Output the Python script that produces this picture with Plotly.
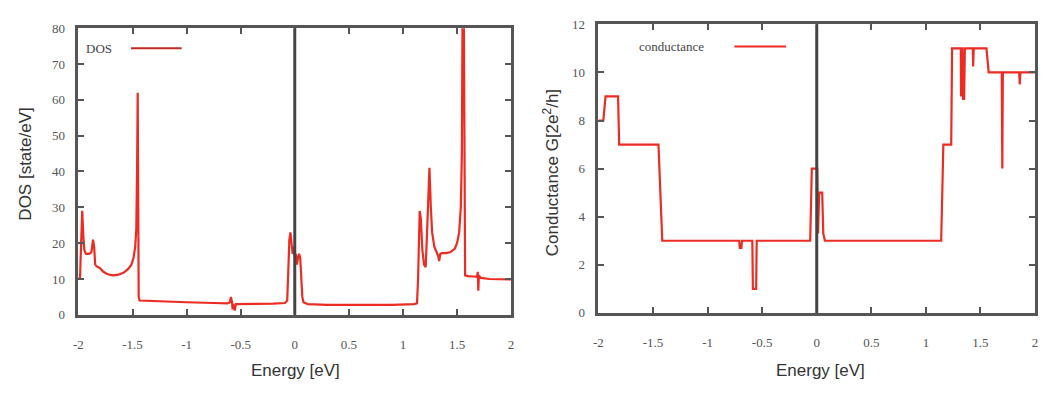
import plotly.graph_objects as go

dos_energy = [-2.00, -1.985, -1.975, -1.965, -1.955, -1.945, -1.93, -1.90, -1.88, -1.865, -1.855, -1.845,
              -1.83, -1.80, -1.77, -1.73, -1.68, -1.63, -1.58, -1.54, -1.51, -1.49, -1.475, -1.465,
              -1.458, -1.452, -1.447, -1.443, -1.435, -1.30, -1.0, -0.75, -0.62, -0.60, -0.59, -0.58,
              -0.575, -0.57, -0.555, -0.545, -0.40, -0.20, -0.09, -0.07, -0.06, -0.05, -0.04, -0.03,
              -0.02, -0.01, 0.0, 0.01, 0.02, 0.03, 0.04, 0.05, 0.055, 0.06, 0.07, 0.08, 0.12, 0.30,
              0.60, 0.90, 1.10, 1.13, 1.14, 1.155, 1.165, 1.18, 1.195, 1.21, 1.222, 1.235, 1.245,
              1.258, 1.27, 1.29, 1.31, 1.325, 1.335, 1.345, 1.36, 1.40, 1.44, 1.48, 1.50, 1.52, 1.535,
              1.545, 1.552, 1.562, 1.575, 1.60, 1.65, 1.685, 1.692, 1.697, 1.702, 1.72, 1.80, 1.90, 2.00]
dos_values = [10, 10.5, 20, 29, 22, 18, 17, 17, 17.5, 21, 19, 14,
              13.5, 13, 12, 11.3, 11, 11.2, 11.8, 12.8, 14, 16, 19, 24,
              40, 62, 30, 5, 4, 3.8, 3.5, 3.3, 3.2, 3.5, 5, 3.5,
              1.5, 3, 1.2, 3, 3, 3.1, 3.3, 4, 12, 21, 23, 20,
              17, 19, 16, 17, 14, 16, 17, 16, 12, 9, 5, 3.5, 3, 2.8,
              2.7, 2.8, 3, 3.2, 10, 29, 27, 18, 14, 13.3, 22, 35, 41,
              30, 23, 19, 17.5, 16.5, 15, 17, 17.2, 17.2, 17.5, 18.5, 20, 23, 30,
              45, 90, 90, 11, 10.8, 10.7, 10.6, 12, 6.7, 11, 10.3, 10, 9.9, 9.9]

cond_energy = [-2.00, -1.955, -1.935, -1.82, -1.81, -1.45, -1.415, -0.71, -0.705, -0.69, -0.685,
               -0.59, -0.585, -0.555, -0.55, -0.06, -0.045, 0.005, 0.012, 0.022, 0.05, 0.06, 0.075,
               1.14, 1.16, 1.232, 1.24, 1.32, 1.322, 1.328, 1.335, 1.34, 1.35, 1.357, 1.43, 1.433,
               1.438, 1.555, 1.575, 1.695, 1.70, 1.705, 1.855, 1.86, 1.865, 2.00]
cond_values = [8, 8, 9, 9, 7, 7, 3, 3, 2.7, 2.7, 3,
               3, 1, 1, 3, 3, 6, 6, 3.3, 5, 5, 3.3, 3,
               3, 7, 7, 11, 11, 9, 11, 11, 8.9, 8.9, 11, 11, 10.25,
               11, 11, 10, 10, 6, 10, 10, 9.5, 10, 10]

x_ticks = [-2, -1.5, -1, -0.5, 0, 0.5, 1, 1.5, 2]
x_tick_labels = ["-2", "-1.5", "-1", "-0.5", "0", "0.5", "1", "1.5", "2"]
dos_ticks = [0, 10, 20, 30, 40, 50, 60, 70, 80]
cond_ticks = [0, 2, 4, 6, 8, 10, 12]

W, H = 1045, 394
RED = "#ec2b22"
FRAME = "#555555"
TICKFONT = dict(family="Liberation Serif", size=13, color="#555555")
TITLEFONT = dict(family="Liberation Sans", size=17, color="#333333")

fig = go.Figure()
fig.add_trace(go.Scatter(x=dos_energy, y=dos_values, mode="lines",
                         line=dict(color=RED, width=2.2), xaxis="x", yaxis="y",
                         showlegend=False, cliponaxis=True))
fig.add_trace(go.Scatter(x=cond_energy, y=cond_values, mode="lines",
                         line=dict(color=RED, width=2.2), xaxis="x2", yaxis="y2",
                         showlegend=False))

def px(x):
    return x / W

def py(y):
    return 1 - y / H

common_x = dict(range=[-2, 2], tickvals=x_ticks, ticktext=x_tick_labels,
                ticks="inside", ticklen=6, tickwidth=1.5, tickcolor=FRAME,
                showline=True, linecolor=FRAME, linewidth=2.5, mirror="allticks",
                showgrid=False, zeroline=False, tickfont=TICKFONT, ticklabelstandoff=16)
common_y = dict(ticks="inside", ticklen=6, tickwidth=1.5, tickcolor=FRAME,
                showline=True, linecolor=FRAME, linewidth=2.5, mirror="allticks",
                showgrid=False, zeroline=False, tickfont=TICKFONT, ticklabelstandoff=8)

fig.update_layout(
    width=W, height=H,
    margin=dict(l=0, r=0, t=0, b=0),
    paper_bgcolor="white", plot_bgcolor="white",
    xaxis=dict(domain=[px(74), px(510)], anchor="y", **common_x),
    yaxis=dict(domain=[py(320), py(22)], anchor="x", range=[0, 80], tickvals=dos_ticks, **common_y),
    xaxis2=dict(domain=[px(598), px(1038)], anchor="y2", **common_x),
    yaxis2=dict(domain=[py(318), py(18)], anchor="x2", range=[0, 12], tickvals=cond_ticks, **common_y),
    shapes=[
        dict(type="line", xref="x", yref="y domain", x0=0, x1=0, y0=0, y1=1,
             line=dict(color="#444444", width=3)),
        dict(type="line", xref="x2", yref="y2 domain", x0=0, x1=0, y0=0, y1=1,
             line=dict(color="#444444", width=3)),
        dict(type="line", xref="paper", yref="paper", x0=px(127), x1=px(178), y0=py(43), y1=py(43),
             line=dict(color="#c42a24", width=2)),
        dict(type="line", xref="paper", yref="paper", x0=px(735), x1=px(787), y0=py(41), y1=py(41),
             line=dict(color=RED, width=2)),
    ],
    annotations=[
        dict(text="DOS", xref="paper", yref="paper", x=px(80), y=py(43), xanchor="left",
             yanchor="middle", showarrow=False,
             font=dict(family="Liberation Serif", size=13, color="#444444")),
        dict(text="conductance", xref="paper", yref="paper", x=px(637), y=py(41), xanchor="left",
             yanchor="middle", showarrow=False,
             font=dict(family="Liberation Serif", size=13, color="#444444")),
        dict(text="DOS [state/eV]", xref="paper", yref="paper", x=px(21), y=py(163),
             textangle=-90, showarrow=False, xanchor="center", yanchor="middle", font=TITLEFONT),
        dict(text="Conductance G[2e<sup>2</sup>/h]", xref="paper", yref="paper", x=px(551), y=py(172),
             textangle=-90, showarrow=False, xanchor="center", yanchor="middle", font=TITLEFONT),
        dict(text="Energy [eV]", xref="paper", yref="paper", x=px(293), y=py(378),
             showarrow=False, xanchor="center", yanchor="middle", font=TITLEFONT),
        dict(text="Energy [eV]", xref="paper", yref="paper", x=px(822), y=py(378),
             showarrow=False, xanchor="center", yanchor="middle", font=TITLEFONT),
    ],
)

fig.write_html("out.html", config={"displayModeBar": False},
               post_script="document.body.style.margin='0';document.body.style.overflow='hidden';")
